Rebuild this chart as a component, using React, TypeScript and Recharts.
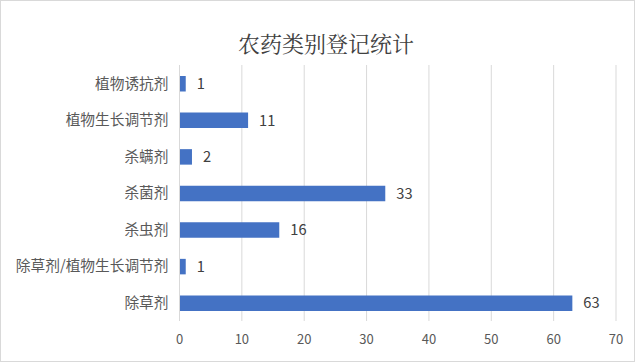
import React from "react";
import { BarChart, Bar, XAxis, YAxis, CartesianGrid, LabelList } from "recharts";

const categories = ["植物诱抗剂", "植物生长调节剂", "杀螨剂", "杀菌剂", "杀虫剂", "除草剂/植物生长调节剂", "除草剂"];
const counts = [1, 11, 2, 33, 16, 1, 63];
const xTicks = [0, 10, 20, 30, 40, 50, 60, 70];
const title = "农药类别登记统计";

const data = categories.map((name, i) => ({ name, value: counts[i] }));

const FONT = "'Noto Sans CJK SC', 'Noto Sans', sans-serif";

export default function App() {
  return (
    <div style={{ position: "absolute", left: 0, top: 0, width: 635, height: 362, background: "#fff" }}>
      <div
        style={{
          position: "absolute",
          left: 0,
          top: 0,
          width: 633,
          height: 360,
          border: "1px solid #d9d9d9",
        }}
      />
      <div
        style={{
          position: "absolute",
          left: 0,
          width: 652,
          top: 28,
          textAlign: "center",
          fontFamily: "'Noto Serif CJK SC', 'Noto Sans CJK SC', serif",
          fontSize: 22,
          color: "#404040",
          lineHeight: "30px",
        }}
      >
        {title}
      </div>
      <BarChart
        width={635}
        height={362}
        data={data}
        layout="vertical"
        margin={{ top: 65, right: 19, bottom: 16, left: 0 }}
        barCategoryGap={0}
      >
        <CartesianGrid horizontal={false} vertical={true} stroke="#d9d9d9" />
        <XAxis
          type="number"
          domain={[0, 70]}
          ticks={xTicks}
          axisLine={false}
          tickLine={false}
          height={25}
          tickMargin={8}
          tick={{ fill: "#595959", fontSize: 13, fontFamily: FONT }}
          interval={0}
        />
        <YAxis
          type="category"
          dataKey="name"
          width={179.5}
          axisLine={{ stroke: "#d9d9d9" }}
          tickLine={false}
          tickSize={0}
          tickMargin={11}
          interval={0}
          tick={{ fill: "#595959", fontSize: 14.7, fontFamily: FONT }}
        />
        <Bar dataKey="value" fill="#4472C4" barSize={15.5} isAnimationActive={false}>
          <LabelList
            dataKey="value"
            position="right"
            offset={11}
            fill="#404040"
            fontSize={14.7}
            fontFamily={FONT}
          />
        </Bar>
      </BarChart>
    </div>
  );
}
